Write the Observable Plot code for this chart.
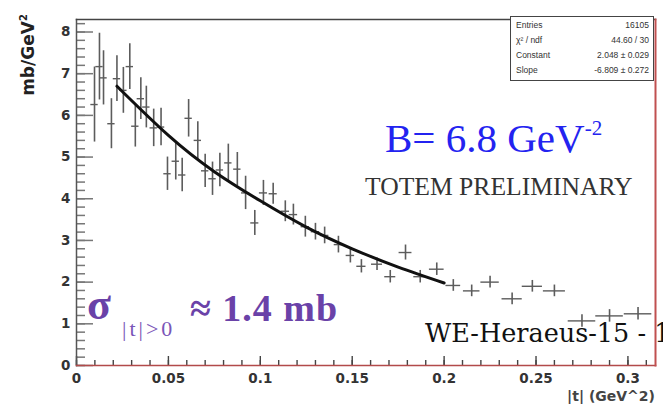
<!DOCTYPE html>
<html><head><meta charset="utf-8">
<script src="https://cdn.jsdelivr.net/npm/d3@7"></script>
<script src="https://cdn.jsdelivr.net/npm/@observablehq/plot@0.6"></script>
<style>
html,body{margin:0;padding:0;background:#fff;}
#wrap{position:relative;width:663px;height:404px;overflow:hidden;background:#fff;}
.ann{position:absolute;white-space:nowrap;line-height:1;z-index:0;}
#chart{position:absolute;left:0;top:0;z-index:1;}
#stats{position:absolute;left:510px;top:16px;width:142px;height:63px;border:1.5px solid #444;background:#fff;z-index:2;
  font-family:"Liberation Sans",Arial,sans-serif;font-size:8.5px;color:#333;}
#stats .row{position:absolute;left:5px;right:4px;display:flex;justify-content:space-between;line-height:1;}
</style></head><body>
<div id="wrap">
  <div class="ann" id="ylab" style="left:28px;top:55px;transform:translate(-50%,-50%) rotate(-90deg);font-family:'DejaVu Sans',sans-serif;font-weight:bold;font-size:17px;color:#222;">mb/GeV<span style="font-size:10px;position:relative;top:-7px;">2</span></div>
  <div class="ann" id="bval" style="left:385px;top:118px;font-family:'Liberation Serif',serif;font-size:41px;color:#2323f0;">B= 6.8 GeV<span style="font-size:21px;position:relative;top:-17px;">-2</span></div>
  <div class="ann" id="totem" style="left:365px;top:174px;font-family:'Liberation Serif',serif;font-size:25.6px;color:#333;">TOTEM PRELIMINARY</div>
  <div class="ann" id="sigma" style="left:87px;top:283px;font-family:'Liberation Serif',serif;font-weight:bold;font-size:44px;color:#6a42a8;">σ</div>
  <div class="ann" id="sigsub" style="left:122px;top:318px;font-family:'Liberation Serif',serif;font-size:22px;letter-spacing:3px;color:#7a56b8;">|t|&gt;0</div>
  <div class="ann" id="sigval" style="left:190px;top:289px;font-family:'Liberation Serif',serif;font-weight:bold;font-size:38px;letter-spacing:1px;color:#6a42a8;">≈ 1.4 mb</div>
  <div class="ann" id="conf" style="left:425px;top:321px;font-family:'DejaVu Serif',serif;font-size:25.5px;color:#111;">WE-Heraeus-15 - 1</div>
  <div class="ann" id="xlab" style="right:8px;top:389px;font-family:'DejaVu Sans',sans-serif;font-weight:bold;font-size:14px;color:#444;">|t| (GeV^2)</div>
  <div id="chart"></div>
  <div id="stats">
    <div class="row" style="top:4px"><span>Entries</span><span>16105</span></div>
    <div class="row" style="top:19px"><span>χ² / ndf</span><span>44.60 / 30</span></div>
    <div class="row" style="top:34px"><span>Constant</span><span>2.048 ± 0.029</span></div>
    <div class="row" style="top:49px"><span>Slope</span><span>-6.809 ± 0.272</span></div>
  </div>
</div>
<script>
// measured |t| bin centres (GeV^2)
const tVals = [0.0098,0.0125,0.0147,0.019,0.022,0.0255,0.029,0.032,0.035,0.038,0.042,0.046,
  0.0495,0.054,0.0575,0.061,0.066,0.070,0.074,0.078,0.0826,0.0875,0.092,0.097,0.1017,0.107,
  0.1136,0.118,0.1245,0.130,0.135,0.1425,0.149,0.155,0.1635,0.1707,0.179,0.187,0.196,
  0.205,0.215,0.225,0.237,0.248,0.260,0.275,0.290,0.3055];
// dsigma/dt (mb/GeV^2)
const sigVals = [6.26,7.17,6.90,5.80,6.88,6.60,7.17,5.74,6.40,6.20,5.70,5.72,
  4.60,4.90,4.57,5.93,5.40,4.67,4.48,4.69,4.86,4.71,4.14,3.42,4.14,4.12,
  3.70,3.62,3.33,3.21,3.12,2.90,2.64,2.38,2.43,2.13,2.71,2.13,2.31,
  1.92,1.79,2.00,1.60,1.90,1.79,1.07,1.19,1.24];
// vertical error half-lengths
const sigErr = [0.9,0.8,0.65,0.6,0.55,0.55,0.55,0.5,0.5,0.5,0.45,0.45,
  0.4,0.45,0.4,0.45,0.45,0.4,0.4,0.4,0.45,0.4,0.4,0.3,0.3,0.25,
  0.25,0.25,0.25,0.2,0.2,0.2,0.18,0.16,0.15,0.15,0.18,0.15,0.15,
  0.14,0.14,0.14,0.14,0.14,0.14,0.15,0.15,0.15];
// bin half widths
const binHalf = [0.002,0.002,0.002,0.002,0.002,0.002,0.002,0.002,0.002,0.002,0.002,0.002,
  0.002,0.002,0.002,0.002,0.002,0.002,0.002,0.002,0.002,0.002,0.0022,0.0022,0.0022,0.0022,
  0.0023,0.0023,0.0023,0.0023,0.0023,0.0023,0.0023,0.0025,0.003,0.003,0.0035,0.0035,0.004,
  0.004,0.0045,0.005,0.0055,0.0055,0.006,0.0075,0.0075,0.0075];
// exponential fit
const fitT = [0.022,0.05,0.075,0.1,0.125,0.15,0.175,0.2];
const fitVals = [6.70,5.52,4.65,3.95,3.32,2.80,2.36,1.98];

const yTicks = [0,1,2,3,4,5,6,7,8];
const yTickLabels = ["0","1","2","3","4","5","6","7","8"];
const xTicks = [0,0.05,0.1,0.15,0.2,0.25,0.3];
const xTickLabels = ["0","0.05","0.1","0.15","0.2","0.25","0.3"];
const yMinor = d3.range(0, 8.3, 0.2);
const xMinor = d3.range(0, 0.315, 0.01);

const pts = tVals.map((t,i)=>({t, v: sigVals[i], e: sigErr[i], w: binHalf[i]}));
const fit = fitT.map((t,i)=>({t, v: fitVals[i]}));

const W = 663, H = 404, mL = 76, mR = 8, mT = 19, mB = 39;
const fw = W - mL - mR, fh = H - mT - mB;
const tickFont = {fontFamily:"DejaVu Sans, sans-serif", fontWeight:"bold", fontSize:13.5, fill:"#333"};

const chart = Plot.plot({
  width: W, height: H,
  marginLeft: mL, marginRight: mR, marginTop: mT, marginBottom: mB,
  style: {background: "transparent", overflow: "visible"},
  x: {domain: [0, 0.315], label: null},
  y: {domain: [0, 8.3], label: null},
  marks: [
    Plot.tickY(yMinor, {y: d => d, insetRight: fw - 9, stroke: "#777", strokeWidth: 1.5}),
    Plot.tickY(yTicks, {y: d => d, insetRight: fw - 17, stroke: "#777", strokeWidth: 1.5}),
    Plot.axisY(yTicks, {anchor:"left", label: null, tickSize: 0, tickPadding: 6, tickFormat: d => yTickLabels[yTicks.indexOf(d)], ...tickFont}),
    Plot.tickX(xMinor, {x: d => d, insetTop: fh - 5, stroke: "#444", strokeWidth: 1.4}),
    Plot.tickX(xTicks, {x: d => d, insetTop: fh - 9, stroke: "#444", strokeWidth: 1.4}),
    Plot.axisX(xTicks, {anchor:"bottom", label: null, tickSize: 0, tickPadding: 8, tickFormat: d => xTickLabels[xTicks.indexOf(d)], ...tickFont}),
    Plot.ruleX(pts, {x: "t", y1: d => d.v - d.e, y2: d => d.v + d.e, stroke: "#5c5c5c", strokeWidth: 1.6}),
    Plot.ruleY(pts, {y: "v", x1: d => d.t - d.w, x2: d => d.t + d.w, stroke: "#5c5c5c", strokeWidth: 1.4}),
    Plot.line(fit, {x: "t", y: "v", curve: "natural", stroke: "#111", strokeWidth: 3}),
    Plot.frame({anchor: "left", stroke: "#555", strokeWidth: 1.5}),
    Plot.frame({anchor: "top", stroke: "#444", strokeWidth: 1.5}),
    Plot.frame({anchor: "bottom", stroke: "#b24a4a", strokeWidth: 1.6}),
    Plot.frame({anchor: "right", stroke: "#c05050", strokeWidth: 2})
  ]
});
document.getElementById("chart").appendChild(chart);
</script>
</body></html>
